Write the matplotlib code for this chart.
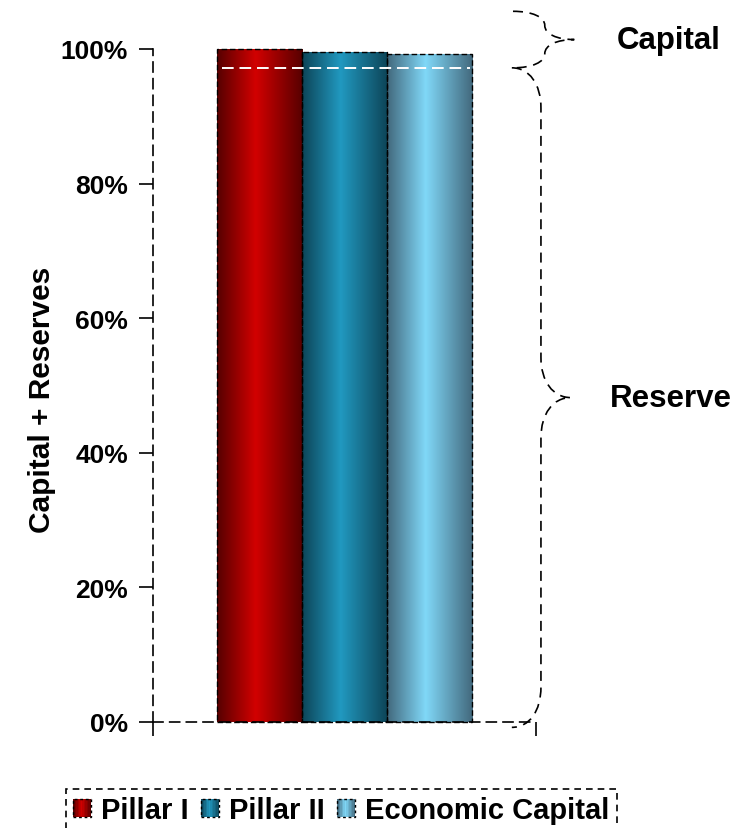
import numpy as np
import matplotlib
matplotlib.use("Agg")
import matplotlib.pyplot as plt
from matplotlib.colors import LinearSegmentedColormap
from matplotlib.patches import Rectangle, PathPatch
from matplotlib.path import Path
from matplotlib.legend_handler import HandlerBase
from matplotlib.transforms import blended_transform_factory

plt.rcParams["font.family"] = ["Liberation Sans", "DejaVu Sans"]
plt.rcParams["font.weight"] = "bold"

# data (share of capital + reserves)
series = ["Pillar I", "Pillar II", "Economic Capital"]
values = [1.000, 0.995, 0.992]
capital_line = 0.972          # boundary between reserve and capital
capital_brace_top = 1.056
yticks = [0.0, 0.2, 0.4, 0.6, 0.8, 1.0]
ytick_labels = ["0%", "20%", "40%", "60%", "80%", "100%"]

# cylinder-like shading: edge colour, centre colour
shades = [
    ("#560000", "#d20000"),
    ("#0d4457", "#2199c0"),
    ("#42687c", "#80d8f8"),
]
cmaps = [LinearSegmentedColormap.from_list(n, [(0, e), (0.45, c), (1, e)])
         for n, (e, c) in zip(series, shades)]

fig = plt.figure(figsize=(7.32, 8.29), dpi=100)
ax = fig.add_axes([0.2090, 0.1279, 0.5232, 0.8118])

width = 0.222
offsets = [-width, 0.0, width]
bars = ax.bar(offsets, values, width=width, facecolor="none", edgecolor="black",
              linewidth=1.0, linestyle=(0, (4, 2)), zorder=3, clip_on=False)

grad = np.linspace(0, 1, 256).reshape(1, -1)
for bar, cmap in zip(bars, cmaps):
    x, w, h = bar.get_x(), bar.get_width(), bar.get_height()
    ax.imshow(grad, cmap=cmap, extent=[x, x + w, 0, h], aspect="auto",
              zorder=2, clip_on=False)

ax.hlines(capital_line, bars[0].get_x() + 0.012, bars[-1].get_x() + width - 0.004,
          colors="white", linestyles=(0, (6, 3)), linewidth=1.4, zorder=4)

ax.set_xlim(-0.5, 0.5)
ax.set_ylim(0, 1.0)
ax.set_yticks(yticks)
ax.set_yticklabels(ytick_labels, fontsize=19, fontweight="bold")
ax.set_xticks([-0.5, 0.5])
ax.set_xticklabels([])
ax.tick_params(axis="both", direction="out", length=10, width=1.2, color="black", pad=8)

for s in ["top", "right"]:
    ax.spines[s].set_visible(False)
for s in ["left", "bottom"]:
    ax.spines[s].set_linestyle((0, (6, 4)))
    ax.spines[s].set_linewidth(1.2)

ax.set_ylabel("Capital + Reserves", fontsize=21.5, fontweight="bold", va="center")
ax.yaxis.set_label_coords(-0.29, 0.48)


def brace(x0, xv, xtip, y_top, y_bot, r_end, r_tip):
    ym = (y_top + y_bot) / 2
    verts = [
        (x0, y_top),
        (x0 + (xv - x0) * 0.6, y_top), (xv, y_top - r_end * 0.4), (xv, y_top - r_end),
        (xv, ym + r_tip),
        (xv, ym + r_tip * 0.4), (xv + (xtip - xv) * 0.4, ym), (xtip, ym),
        (xv + (xtip - xv) * 0.4, ym), (xv, ym - r_tip * 0.4), (xv, ym - r_tip),
        (xv, y_bot + r_end),
        (xv, y_bot + r_end * 0.4), (x0 + (xv - x0) * 0.6, y_bot), (x0, y_bot),
    ]
    codes = [Path.MOVETO, Path.CURVE4, Path.CURVE4, Path.CURVE4, Path.LINETO,
             Path.CURVE4, Path.CURVE4, Path.CURVE4, Path.CURVE4, Path.CURVE4,
             Path.CURVE4, Path.LINETO, Path.CURVE4, Path.CURVE4, Path.CURVE4]
    return Path(verts, codes)


tr = blended_transform_factory(ax.transAxes, ax.transData)
for p in [brace(0.94, 1.023, 1.10, capital_brace_top, capital_line, 0.021, 0.021),
          brace(0.937, 1.013, 1.091, capital_line, -0.008, 0.06, 0.06)]:
    ax.add_patch(PathPatch(p, facecolor="none", edgecolor="black", linewidth=1.2,
                           linestyle=(0, (6, 4)), transform=tr, clip_on=False))

ax.text(1.211, (capital_brace_top + capital_line) / 2, "Capital", transform=tr,
        fontsize=22.5, fontweight="bold", ha="left", va="center")
ax.text(1.193, (capital_line - 0.008) / 2, "Reserve", transform=tr,
        fontsize=22.5, fontweight="bold", ha="left", va="center")


class GradientHandler(HandlerBase):
    def __init__(self, cmap):
        super().__init__()
        self.cmap = cmap

    def create_artists(self, legend, orig_handle, xdescent, ydescent,
                       width, height, fontsize, trans):
        n = 12
        arts = []
        for i in range(n):
            arts.append(Rectangle((-xdescent + i * width / n, -ydescent), width / n,
                                  height, facecolor=self.cmap((i + 0.5) / n),
                                  edgecolor="none", transform=trans))
        arts.append(Rectangle((-xdescent, -ydescent), width, height, fill=False,
                              edgecolor="black", linestyle=(0, (2, 2)),
                              linewidth=1.0, transform=trans))
        return arts


handles = [Rectangle((0, 0), 1, 1) for _ in series]
leg = fig.legend(handles, series, loc="upper left", ncol=3,
                 bbox_to_anchor=(0.0902, 0.0471), bbox_transform=fig.transFigure,
                 borderaxespad=0, fancybox=False, framealpha=1,
                 prop={"size": 21, "weight": "bold"},
                 handlelength=0.62, handleheight=0.62, handletextpad=0.34,
                 columnspacing=0.42, borderpad=0.25,
                 handler_map={h: GradientHandler(c) for h, c in zip(handles, cmaps)})
frame = leg.get_frame()
frame.set_edgecolor("black")
frame.set_linestyle((0, (4, 3)))
frame.set_linewidth(1.2)

fig.savefig("out.png", dpi=100)
